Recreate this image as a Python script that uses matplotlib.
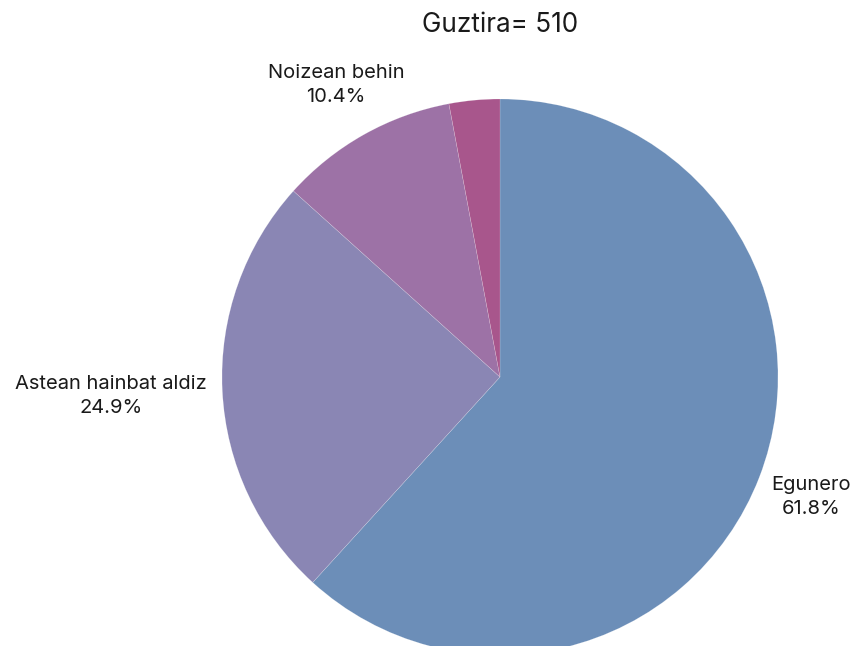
import matplotlib
matplotlib.use("Agg")
import matplotlib.pyplot as plt
import numpy as np

categories = ["Egunero", "Astean hainbat aldiz", "Noizean behin", "Inoiz ez"]
counts = [315, 127, 53, 15]
colors = ["#6c8eb8", "#8a86b4", "#9d72a6", "#a8568c"]
title = "Guztira= 510"

plt.rcParams['font.family'] = ['Inter', 'DejaVu Sans']

W, H = 857, 646
fig = plt.figure(figsize=(W / 100, H / 100), dpi=100)
ax = fig.add_axes([0, 0, 1, 1])

cx, cy, r = 500, H - 377, 278
wedges, _ = ax.pie(counts, colors=colors, startangle=90, counterclock=False,
                   center=(cx, cy), radius=r, frame=True,
                   wedgeprops=dict(edgecolor=(1, 1, 1, 0.35), linewidth=0.3))
ax.set_xlim(0, W)
ax.set_ylim(0, H)
ax.set_aspect('equal')
ax.axis('off')

total = sum(counts)
label_pos = {0: (811, H - 497), 1: (111, H - 396), 2: (336, H - 85)}
for i, (c, n) in enumerate(zip(categories, counts)):
    if i not in label_pos:
        continue
    x, y = label_pos[i]
    ax.text(x, y, f"{c}\n{100 * n / total:.1f}%", ha='center', va='center',
            fontsize=14.5, color='#1a1a1a', linespacing=1.4)

ax.text(500, H - 25, title, ha='center', va='center', fontsize=18.8, color='#1a1a1a')

fig.savefig("out.png", dpi=100)
